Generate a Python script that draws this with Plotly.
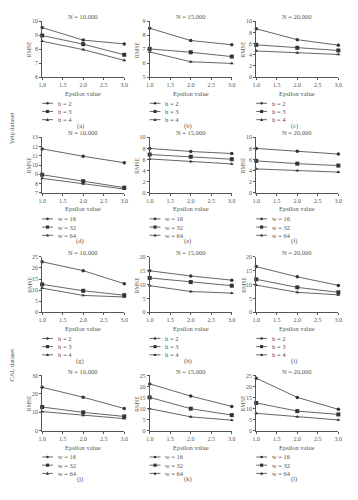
import plotly.graph_objects as go

W, H = 358, 500

# ---------------- data ----------------
epsilon = [1.0, 2.0, 3.0]
x_ticks = [1.0, 1.5, 2.0, 2.5, 3.0]
h_labels = ["h = 2", "h = 3", "h = 4"]
w_labels = ["w = 16", "w = 32", "w = 64"]
n_titles = ["N = 10,000", "N = 15,000", "N = 20,000"]
captions = ["(a)", "(b)", "(c)", "(d)", "(e)", "(f)",
            "(g)", "(h)", "(i)", "(j)", "(k)", "(l)"]
dataset_labels = ["Yelp dataset", "CAL dataset"]

rmse_a = [[9.55, 8.65, 8.38], [8.98, 8.36, 7.60], [8.57, 7.97, 7.20]]
rmse_b = [[8.50, 7.62, 7.32], [7.02, 6.78, 6.47], [6.80, 6.10, 5.98]]
rmse_c = [[8.65, 6.70, 5.72], [5.78, 5.25, 4.77], [4.68, 4.36, 4.06]]
rmse_d = [[11.75, 10.95, 10.25], [8.95, 8.25, 7.55], [8.55, 7.95, 7.40]]
rmse_e = [[8.00, 7.45, 7.08], [6.90, 6.50, 6.05], [6.10, 5.62, 5.20]]
rmse_f = [[8.00, 7.50, 6.98], [5.75, 5.25, 4.90], [4.30, 3.98, 3.72]]
rmse_g = [[22.8, 18.8, 12.9], [12.6, 9.7, 7.7], [10.9, 7.6, 6.9]]
rmse_h = [[15.0, 13.1, 11.6], [12.4, 10.9, 9.6], [9.6, 7.5, 6.9]]
rmse_i = [[16.5, 12.8, 9.7], [11.9, 9.0, 7.2], [9.8, 7.2, 6.3]]
rmse_j = [[23.6, 18.2, 12.1], [12.9, 10.0, 7.8], [10.4, 8.4, 6.6]]
rmse_k = [[21.2, 15.7, 11.0], [15.1, 10.0, 7.1], [10.0, 6.3, 4.8]]
rmse_l = [[23.8, 15.1, 9.7], [12.6, 8.9, 7.4], [7.9, 6.3, 4.9]]

y_ranges = [[6, 10], [5, 9], [0, 10], [7, 13], [0, 10], [0, 10],
            [0, 25], [0, 20], [0, 20], [0, 30], [0, 25], [0, 25]]
y_dticks = [1, 1, 2, 1, 2, 2, 5, 5, 5, 10, 5, 5]

panels = [rmse_a, rmse_b, rmse_c, rmse_d, rmse_e, rmse_f,
          rmse_g, rmse_h, rmse_i, rmse_j, rmse_k, rmse_l]

# ---------------- style / layout ----------------
FONT = "Liberation Serif"
TXT = "#555555"
LINE = "#555555"
MK = "#333333"
symbols = ["circle", "square", "triangle-up"]
msizes = [3.5, 4, 3.5]

col_px = [(39, 123), (149, 233), (258, 342)]
row_px = [(18.5, 75), (136, 192), (257, 313), (377, 433)]


def px_x(v):
    return v / W


def px_y(v):
    return 1 - v / H


fig = go.Figure()
layout = dict(
    width=W, height=H, margin=dict(l=0, r=0, t=0, b=0),
    paper_bgcolor="white", plot_bgcolor="white",
    showlegend=False, font=dict(family=FONT, size=6, color=TXT),
)
annotations = []
shapes = []

for i, series in enumerate(panels):
    r, c = divmod(i, 3)
    k = i + 1
    xl, xr = col_px[c]
    yt, yb = row_px[r]
    xa = "xaxis" if k == 1 else f"xaxis{k}"
    ya = "yaxis" if k == 1 else f"yaxis{k}"
    xref = "x" if k == 1 else f"x{k}"
    yref = "y" if k == 1 else f"y{k}"
    labels = h_labels if r in (0, 2) else w_labels

    for s, vals in enumerate(series):
        fig.add_trace(go.Scatter(
            x=epsilon, y=vals, name=labels[s], mode="lines+markers",
            xaxis=xref, yaxis=yref, cliponaxis=False,
            line=dict(color=LINE, width=0.9),
            marker=dict(symbol=symbols[s], size=msizes[s], color=MK),
        ))

    layout[xa] = dict(
        domain=[px_x(xl), px_x(xr)], anchor=yref, range=[1, 3],
        tickvals=x_ticks, ticktext=[f"{t:.1f}" for t in x_ticks],
        showline=True, linecolor=LINE, linewidth=1, showgrid=False,
        zeroline=False, ticks="outside", ticklen=2, tickcolor=LINE,
        tickfont=dict(family=FONT, size=6, color=TXT),
    )
    layout[ya] = dict(
        domain=[px_y(yb), px_y(yt)], anchor=xref, range=y_ranges[i],
        dtick=y_dticks[i], tick0=0,
        showline=True, linecolor=LINE, linewidth=1, showgrid=False,
        zeroline=False, ticks="outside", ticklen=2, tickcolor=LINE,
        tickfont=dict(family=FONT, size=6, color=TXT),
    )

    xc = (xl + xr) / 2
    # panel title
    annotations.append(dict(text=n_titles[c], x=px_x(xc), y=px_y(yt - 4.5),
                            xref="paper", yref="paper", showarrow=False,
                            xanchor="center", yanchor="middle",
                            font=dict(family=FONT, size=6.5, color=TXT)))
    # x axis title
    annotations.append(dict(text="Epsilon value", x=px_x(xc), y=px_y(yb + 16.5),
                            xref="paper", yref="paper", showarrow=False,
                            xanchor="center", yanchor="middle",
                            font=dict(family=FONT, size=6.5, color=TXT)))
    # y axis title
    annotations.append(dict(text="RMSE", x=px_x(xl - 13), y=px_y((yt + yb) / 2),
                            xref="paper", yref="paper", showarrow=False,
                            textangle=-90, xanchor="center", yanchor="middle",
                            font=dict(family=FONT, size=6, color=TXT)))
    # caption
    annotations.append(dict(text=captions[i], x=px_x(xc - 3), y=px_y(yb + 49),
                            xref="paper", yref="paper", showarrow=False,
                            xanchor="center", yanchor="middle",
                            font=dict(family=FONT, size=6.5, color=TXT)))
    # legend keys
    for s, lab in enumerate(labels):
        ly = yb + 26.5 + 8.3 * s
        shapes.append(dict(type="line", xref="paper", yref="paper",
                           x0=px_x(xl), x1=px_x(xl + 11), y0=px_y(ly), y1=px_y(ly),
                           line=dict(color=LINE, width=0.9)))
        mx = xl + 5.5
        if s == 0:
            shapes.append(dict(type="circle", xref="paper", yref="paper",
                               x0=px_x(mx - 1.3), x1=px_x(mx + 1.3),
                               y0=px_y(ly + 1.3), y1=px_y(ly - 1.3),
                               fillcolor=MK, line=dict(width=0)))
        elif s == 1:
            shapes.append(dict(type="rect", xref="paper", yref="paper",
                               x0=px_x(mx - 1.6), x1=px_x(mx + 1.6),
                               y0=px_y(ly + 1.6), y1=px_y(ly - 1.6),
                               fillcolor=MK, line=dict(width=0)))
        else:
            path = (f"M {px_x(mx - 1.6)},{px_y(ly + 1.3)} "
                    f"L {px_x(mx + 1.6)},{px_y(ly + 1.3)} "
                    f"L {px_x(mx)},{px_y(ly - 1.6)} Z")
            shapes.append(dict(type="path", xref="paper", yref="paper",
                               path=path, fillcolor=MK, line=dict(width=0)))
        annotations.append(dict(text=lab, x=px_x(xl + 14), y=px_y(ly),
                                xref="paper", yref="paper", showarrow=False,
                                xanchor="left", yanchor="middle",
                                font=dict(family=FONT, size=6.5, color=TXT)))

# dataset side labels
for lab, cy in zip(dataset_labels, [127, 366]):
    annotations.append(dict(text=lab, x=px_x(8), y=px_y(cy), xref="paper",
                            yref="paper", showarrow=False, textangle=-90,
                            xanchor="center", yanchor="middle",
                            font=dict(family=FONT, size=6.5, color=TXT)))

layout["annotations"] = annotations
layout["shapes"] = shapes
fig.update_layout(**layout)

fig.write_html("out.html", config={"displayModeBar": False},
               post_script="document.body.style.margin='0';")
